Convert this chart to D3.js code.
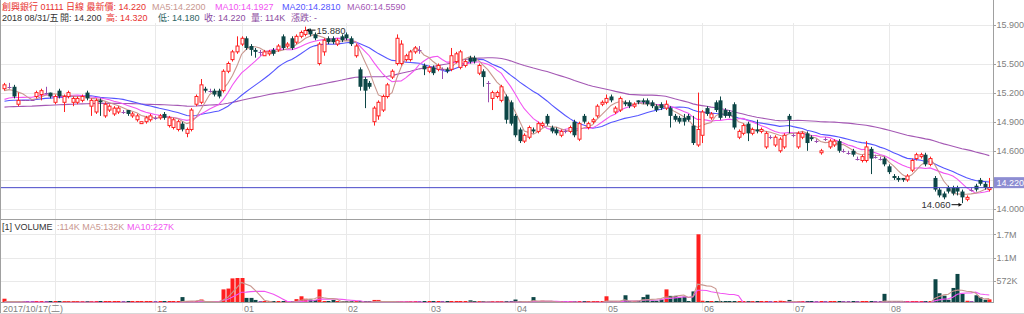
<!DOCTYPE html>
<html><head><meta charset="utf-8">
<script src="https://cdn.jsdelivr.net/npm/d3@7/dist/d3.min.js"></script>
<style>
body{margin:0;background:#fff;}
svg{display:block;font-family:"Liberation Sans",Arial,"Noto Sans CJK TC",sans-serif;}
</style></head>
<body><svg id="c" width="1024" height="314"></svg>
<script>
// ---------------- data ----------------
const opens = [
15.24,15.26,15.26,15.08,15.12,15.12,15.12,15.16,15.18,15.20,
15.20,15.10,15.22,15.10,15.16,15.10,15.10,15.12,15.20,15.06,
15.00,15.12,14.96,15.02,14.98,15.00,15.00,15.02,14.96,14.92,
14.88,14.90,14.92,14.94,14.94,14.98,14.86,14.84,14.82,14.88,
14.78,14.82,15.08,15.10,15.24,15.22,15.22,15.22,15.22,15.42,
15.54,15.62,15.70,15.76,15.68,15.64,15.62,15.58,15.60,15.64,
15.64,15.78,15.68,15.76,15.72,15.78,15.80,15.84,15.80,15.50,
15.62,15.76,15.76,15.70,15.78,15.80,15.76,15.58,15.44,15.34,
15.30,14.90,14.96,15.02,15.16,15.36,15.50,15.50,15.54,15.54,
15.62,15.64,15.48,15.42,15.46,15.44,15.44,15.44,15.44,15.52,
15.46,15.48,15.56,15.56,15.40,15.42,15.30,15.14,15.16,15.12,
15.16,15.10,14.96,14.82,14.70,14.74,14.82,14.80,14.86,14.96,
14.84,14.82,14.76,14.80,14.80,14.90,14.72,14.96,14.84,14.90,
14.96,15.08,15.10,15.16,15.00,15.02,15.10,15.10,15.06,15.12,
15.12,15.12,15.10,15.06,15.08,15.04,15.04,14.96,14.94,14.94,
14.96,14.86,14.66,14.76,15.04,14.94,15.10,15.12,15.02,15.00,
15.08,14.74,14.78,14.88,14.78,14.82,14.80,14.64,14.74,14.66,
14.60,14.64,14.96,14.76,14.64,14.74,14.78,14.74,14.70,14.58,
14.72,14.64,14.66,14.70,14.60,14.58,14.60,14.52,14.50,14.50,
14.62,14.54,14.52,14.52,14.44,14.34,14.32,14.32,14.30,14.40,
14.52,14.54,14.56,14.46,14.32,14.20,14.16,14.22,14.22,14.22,
14.18,14.10,14.20,14.24,14.30,14.26,14.20];
const highs = [
15.30,15.30,15.28,15.20,15.12,15.12,15.12,15.22,15.24,15.26,
15.20,15.18,15.24,15.18,15.22,15.16,15.16,15.18,15.22,15.14,
15.14,15.14,15.10,15.08,15.06,15.06,15.02,15.02,15.00,14.98,
14.90,14.96,14.98,14.96,14.98,15.00,14.96,14.94,14.92,14.90,
14.84,15.04,15.18,15.34,15.26,15.24,15.24,15.24,15.44,15.52,
15.64,15.78,15.78,15.78,15.70,15.66,15.64,15.64,15.64,15.66,
15.70,15.80,15.72,15.78,15.80,15.84,15.88,15.86,15.82,15.72,
15.76,15.78,15.78,15.76,15.80,15.82,15.78,15.70,15.46,15.36,
15.32,15.06,15.12,15.18,15.30,15.44,15.80,15.74,15.60,15.64,
15.68,15.68,15.50,15.48,15.48,15.50,15.46,15.46,15.66,15.62,
15.64,15.54,15.58,15.58,15.50,15.44,15.32,15.22,15.22,15.28,
15.18,15.12,14.98,14.84,14.78,14.86,14.84,14.90,14.90,14.98,
14.86,14.84,14.82,14.82,14.86,14.92,14.90,14.98,14.90,14.94,
15.08,15.12,15.18,15.18,15.06,15.16,15.12,15.12,15.10,15.12,
15.14,15.14,15.12,15.08,15.10,15.12,15.06,14.98,14.96,14.98,
14.98,14.96,15.20,15.02,15.06,15.00,15.12,15.16,15.04,15.02,
15.10,14.82,14.88,14.90,14.84,14.92,14.84,14.80,14.76,14.76,
14.74,14.78,14.98,14.78,14.80,14.80,14.80,14.76,14.72,14.62,
14.74,14.72,14.72,14.72,14.62,14.60,14.62,14.54,14.56,14.70,
14.64,14.56,14.54,14.54,14.46,14.36,14.34,14.32,14.36,14.52,
14.58,14.58,14.58,14.54,14.34,14.22,14.18,14.24,14.24,14.24,
14.20,14.14,14.22,14.26,14.32,14.28,14.32];
const lows = [
15.22,15.24,15.14,15.06,15.12,15.12,15.12,15.14,15.12,15.18,
15.14,15.08,15.14,15.00,15.14,15.06,15.08,15.10,15.12,14.96,
14.98,14.96,14.94,15.00,14.96,14.98,14.98,14.96,14.94,14.90,
14.88,14.88,14.90,14.92,14.92,14.92,14.84,14.82,14.80,14.80,
14.74,14.80,15.06,15.08,15.20,15.20,15.16,15.14,15.20,15.40,
15.52,15.60,15.68,15.64,15.58,15.56,15.58,15.58,15.58,15.58,
15.62,15.64,15.66,15.64,15.70,15.76,15.78,15.78,15.74,15.48,
15.58,15.70,15.70,15.68,15.72,15.74,15.68,15.56,15.22,15.04,
15.24,14.86,14.92,15.00,15.14,15.34,15.48,15.48,15.52,15.52,
15.60,15.60,15.38,15.40,15.38,15.42,15.34,15.40,15.42,15.50,
15.44,15.46,15.50,15.50,15.38,15.26,15.10,15.02,15.14,15.10,
14.88,14.86,14.74,14.68,14.68,14.72,14.78,14.78,14.84,14.86,
14.78,14.76,14.74,14.78,14.78,14.74,14.70,14.88,14.82,14.88,
14.94,15.06,15.08,15.10,14.98,15.00,15.06,15.04,15.04,15.08,
15.08,15.06,15.04,15.00,15.02,15.02,14.84,14.90,14.88,14.86,
14.90,14.66,14.64,14.68,14.96,14.92,15.00,14.92,14.94,14.94,
14.82,14.72,14.76,14.70,14.76,14.78,14.78,14.62,14.72,14.64,
14.58,14.62,14.78,14.74,14.62,14.72,14.60,14.70,14.68,14.56,
14.70,14.62,14.64,14.58,14.58,14.56,14.54,14.50,14.48,14.48,
14.36,14.52,14.50,14.44,14.36,14.30,14.28,14.28,14.28,14.38,
14.50,14.52,14.44,14.44,14.18,14.12,14.10,14.16,14.14,14.14,
14.06,14.08,14.18,14.18,14.24,14.20,14.18];
const closes = [
15.28,15.26,15.16,15.12,15.12,15.12,15.12,15.20,15.22,15.20,
15.16,15.16,15.16,15.16,15.20,15.14,15.14,15.16,15.14,15.12,
15.12,15.10,15.08,15.06,15.04,15.04,15.00,14.98,14.98,14.96,
14.90,14.94,14.96,14.94,14.96,14.94,14.94,14.92,14.90,14.82,
14.82,15.02,15.16,15.28,15.22,15.22,15.18,15.16,15.42,15.50,
15.62,15.68,15.76,15.66,15.64,15.62,15.62,15.62,15.62,15.60,
15.68,15.66,15.70,15.66,15.78,15.82,15.84,15.80,15.76,15.70,
15.74,15.72,15.72,15.74,15.74,15.76,15.70,15.68,15.26,15.22,
15.26,15.04,15.10,15.16,15.28,15.42,15.76,15.70,15.58,15.62,
15.66,15.64,15.44,15.46,15.40,15.48,15.44,15.42,15.58,15.60,
15.62,15.52,15.52,15.52,15.48,15.36,15.30,15.20,15.20,15.26,
14.92,14.88,14.76,14.70,14.76,14.84,14.80,14.88,14.88,14.88,
14.80,14.78,14.80,14.80,14.84,14.76,14.88,14.90,14.88,14.92,
15.06,15.10,15.14,15.12,15.04,15.14,15.08,15.06,15.08,15.10,
15.10,15.08,15.06,15.02,15.04,15.08,14.96,14.92,14.90,14.90,
14.92,14.68,14.82,15.00,14.98,14.98,15.02,14.94,14.96,14.96,
14.84,14.80,14.86,14.78,14.82,14.80,14.82,14.78,14.74,14.74,
14.72,14.76,14.92,14.76,14.78,14.78,14.68,14.72,14.70,14.60,
14.72,14.70,14.70,14.60,14.60,14.58,14.56,14.52,14.54,14.64,
14.52,14.54,14.52,14.46,14.38,14.32,14.30,14.30,14.34,14.50,
14.56,14.56,14.46,14.52,14.20,14.14,14.12,14.18,14.16,14.18,
14.12,14.12,14.20,14.20,14.26,14.22,14.22];
// volume in thousands of shares
const volumes = [
130,40,45,30,20,15,15,25,30,20,
35,55,30,60,25,50,55,30,35,30,
25,30,20,25,20,15,20,70,20,25,
15,20,65,20,25,20,30,25,50,170,
55,60,55,110,40,30,25,30,360,380,
630,640,640,150,150,100,40,30,20,25,
35,60,40,60,120,190,130,110,100,360,
60,40,100,30,30,50,40,30,60,40,
30,100,100,40,40,35,70,40,30,25,
20,20,30,25,20,20,25,20,35,30,
40,30,90,30,30,60,60,40,30,30,
40,40,110,60,40,30,170,50,80,30,
30,60,30,20,30,70,40,30,30,40,
40,50,190,50,30,40,215,40,35,50,
170,230,80,80,110,360,200,200,160,180,
70,310,1716,80,60,20,25,30,20,25,
60,25,60,30,20,20,15,20,15,60,
80,30,100,30,20,20,15,15,20,15,
20,20,15,30,20,40,20,15,40,50,
20,20,25,250,30,20,20,15,15,20,
20,15,20,20,610,265,205,105,395,740,
250,80,60,215,165,105,114];
// index of the first session of each month and its label
const monthStarts = [11,33,52,75,93,112,132,153,173,194];
const monthLabels = ["","12","01","02","03","04","05","06","07","08"];
const firstDateLabel = "2017/10/17(二)";
const priceTicks = [14.0,14.3,14.6,14.9,15.2,15.5,15.9];
const volTicks = [572,1144,1716];
const volTickLabels = ["572K","1.1M","1.7M"];
// moving-average values at the first visible session
const maSeedPrice = {5:15.22,10:15.13,20:15.11,60:15.05};
const maSeedVol = {5:60,10:50};
const header1 = ["創興銀行 01111 日線 最新價: 14.220","MA5:14.2200","MA10:14.1927","MA20:14.2810","MA60:14.5590"];
const header2 = ["2018 08/31/五","開: 14.200","高: 14.320","低: 14.180","收: 14.220","量: 114K","漲跌: -"];
const volHeader = ["[1] VOLUME",":114K MA5:132K","MA10:227K"];

// ---------------- layout ----------------
const RIGHT = 993;
const C = {up:"#ff1f1f", down:"#0d4646", flat:"#9a4fb0",
  ma5:"#c9978f", ma10:"#f254f2", ma20:"#5555ff", ma60:"#a458b4",
  grid:"#e9e9e9", axis:"#a0a0a0", label:"#808080"};
const svg = d3.select("#c");
const n = closes.length;
const x = d3.scalePoint().domain(d3.range(n)).range([4.5, 989.3]);
const y = d3.scaleLinear().domain([14.0,15.9]).range([209,24.7]);
const yv = d3.scaleLinear().domain([0,1716]).range([304,234.3]);
const px = i => Math.round(x(i)) + 0.5;

function movingAvg(vals, k, seed){
  const prior = (k*seed - vals[0])/(k-1);
  return vals.map((v,i)=>{
    let s = 0;
    if (i >= k-1){ for(let j=i-k+1;j<=i;j++) s+=vals[j]; }
    else { s = prior*(k-1-i); for(let j=0;j<=i;j++) s+=vals[j]; }
    return s/k;
  });
}
const dir = i => closes[i] > opens[i] ? "up" : (closes[i] < opens[i] ? "down" : "flat");

// defs / clips
const defs = svg.append("defs");
defs.append("clipPath").attr("id","cp").append("rect").attr("x",1).attr("y",23).attr("width",RIGHT-1).attr("height",196);
defs.append("clipPath").attr("id","cv").append("rect").attr("x",1).attr("y",220).attr("width",RIGHT-1).attr("height",82.5);

// grid
const g = svg.append("g");
g.selectAll("line.hg").data(priceTicks).join("line")
  .attr("x1",1).attr("x2",RIGHT).attr("y1",d=>Math.round(y(d))+0.5).attr("y2",d=>Math.round(y(d))+0.5)
  .attr("stroke",C.grid);
g.selectAll("line.vg").data(volTicks).join("line")
  .attr("x1",1).attr("x2",RIGHT).attr("y1",d=>Math.round(yv(d))+0.5).attr("y2",d=>Math.round(yv(d))+0.5)
  .attr("stroke",C.grid);
g.selectAll("line.mg").data(monthStarts).join("line")
  .attr("x1",d=>px(d)).attr("x2",d=>px(d)).attr("y1",23).attr("y2",311)
  .attr("stroke",C.grid);

// frame
svg.append("line").attr("x1",0.5).attr("x2",0.5).attr("y1",0).attr("y2",314).attr("stroke",C.axis);
svg.append("line").attr("x1",RIGHT+0.5).attr("x2",RIGHT+0.5).attr("y1",0).attr("y2",303).attr("stroke",C.axis);
svg.append("line").attr("x1",0).attr("x2",RIGHT).attr("y1",219.5).attr("y2",219.5).attr("stroke",C.axis);
svg.append("line").attr("x1",0).attr("x2",RIGHT+1).attr("y1",302.5).attr("y2",302.5).attr("stroke",C.axis);
svg.append("line").attr("x1",0).attr("x2",1024).attr("y1",313.5).attr("y2",313.5).attr("stroke","#d8d8d8");

// price panel
const pp = svg.append("g").attr("clip-path","url(#cp)");
const line = (arr)=> d3.line().x((d,i)=>x(i)).y(d=>y(d)).curve(d3.curveLinear)(arr);
[[60,C.ma60],[20,C.ma20],[10,C.ma10],[5,C.ma5]].forEach(([k,col])=>{
  pp.append("path").attr("d",line(movingAvg(closes,k,maSeedPrice[k])))
    .attr("fill","none").attr("stroke",col).attr("stroke-width",1.1);
});
const cg = pp.selectAll("g.c").data(d3.range(n)).join("g");
cg.append("line").attr("x1",i=>px(i)).attr("x2",i=>px(i))
  .attr("y1",i=>y(highs[i])).attr("y2",i=>y(lows[i]))
  .attr("stroke",i=>C[dir(i)]);
cg.each(function(i){
  const s = d3.select(this), d = dir(i);
  const top = y(Math.max(opens[i],closes[i])), bot = y(Math.min(opens[i],closes[i]));
  if (d==="up"){
    s.append("rect").attr("x",px(i)-1.5).attr("y",top).attr("width",3).attr("height",Math.max(1,bot-top))
      .attr("fill","#fff").attr("stroke",C.up).attr("stroke-width",1);
  } else if (d==="down"){
    s.append("rect").attr("x",px(i)-2).attr("y",top).attr("width",4).attr("height",Math.max(1,bot-top))
      .attr("fill",C.down);
  } else {
    s.append("line").attr("x1",px(i)-2).attr("x2",px(i)+2).attr("y1",Math.round(top)+0.5).attr("y2",Math.round(top)+0.5)
      .attr("stroke",C.flat);
  }
});

// current price line and marker
const last = closes[n-1];
svg.append("line").attr("x1",1).attr("x2",RIGHT).attr("y1",y(last)).attr("y2",y(last))
  .attr("stroke","#4848c8").attr("stroke-width",1);

// high / low annotations (arrow points at the candle)
const iHi = d3.maxIndex(highs), iLo = d3.minIndex(lows);
const ann = svg.append("g").attr("font-size",9.5).attr("fill","#333");
{
  const hx = px(iHi), hy = y(highs[iHi]) + 3.5;
  ann.append("path").attr("d",`M${hx+10},${hy}H${hx+1}`).attr("fill","none").attr("stroke","#111");
  ann.append("path").attr("d",`M${hx+1},${hy}l3,-2v4z`).attr("fill","#111");
  ann.append("text").attr("x",hx+11).attr("y",hy+3.5).text(highs[iHi].toFixed(3));
  const lx = px(iLo), ly = y(lows[iLo]) + 1.5;
  ann.append("path").attr("d",`M${lx-11},${ly}H${lx-1}`).attr("fill","none").attr("stroke","#111");
  ann.append("path").attr("d",`M${lx-1},${ly}l-3,-2v4z`).attr("fill","#111");
  ann.append("text").attr("x",lx-12).attr("y",ly+3.5).attr("text-anchor","end").text(lows[iLo].toFixed(3));
}

// volume panel
const vp = svg.append("g").attr("clip-path","url(#cv)");
vp.selectAll("rect").data(d3.range(n)).join("rect")
  .attr("x",i=>px(i)-2).attr("width",4)
  .attr("y",i=>Math.min(yv(volumes[i]),301)).attr("height",i=>Math.max(1,302-yv(volumes[i])))
  .attr("fill",i=>C[dir(i)]);
const vline = (arr)=> d3.line().x((d,i)=>x(i)).y(d=>yv(d))(arr);
[[10,C.ma10],[5,C.ma5]].forEach(([k,col])=>{
  vp.append("path").attr("d",vline(movingAvg(volumes,k,maSeedVol[k])))
    .attr("fill","none").attr("stroke",col).attr("stroke-width",1.1);
});

// right axis labels
const ax = svg.append("g").attr("font-size",9).attr("fill",C.label);
const lastY = y(last);
priceTicks.forEach(t=>{
  const yy = Math.round(y(t))+0.5;
  svg.append("line").attr("x1",RIGHT).attr("x2",RIGHT+3).attr("y1",yy).attr("y2",yy).attr("stroke",C.axis);
  if (Math.abs(y(t)-lastY) > 10)
    ax.append("text").attr("x",RIGHT+3.5).attr("y",y(t)+3.3).text(t.toFixed(3));
});
volTicks.forEach((t,k)=>{
  const yy = Math.round(yv(t))+0.5;
  svg.append("line").attr("x1",RIGHT).attr("x2",RIGHT+3).attr("y1",yy).attr("y2",yy).attr("stroke",C.axis);
  ax.append("text").attr("x",RIGHT+3.5).attr("y",yv(t)+3.3).text(volTickLabels[k]);
});
svg.append("rect").attr("x",RIGHT+1).attr("y",lastY-10.5).attr("width",1024-RIGHT-1).attr("height",11).attr("fill","#8d8dd2");
svg.append("text").attr("x",RIGHT+3.5).attr("y",lastY-2).attr("font-size",9).attr("fill","#fff").text(last.toFixed(3));

// bottom date labels
const bl = svg.append("g").attr("font-size",9).attr("fill",C.label);
bl.append("text").attr("x",3).attr("y",312).text(firstDateLabel);
monthStarts.forEach((m,k)=>{ if(monthLabels[k]) bl.append("text").attr("x",px(m)+1.5).attr("y",312).text(monthLabels[k]); });

// headers
const FS = 9;
const h1 = svg.append("g").attr("font-size",FS);
const h1x = [2,152,215,282,347], h1c = ["#e8322f",C.ma5,C.ma10,C.ma20,C.ma60];
header1.forEach((t,k)=> h1.append("text").attr("x",h1x[k]).attr("y",9.5).attr("fill",h1c[k]).text(t));
const h2 = svg.append("g").attr("font-size",FS);
const h2x = [2,60,106,158,204,251,291];
const h2c = ["#333","#333","#e8322f","#2d6464","#8b4aa0","#8b4aa0","#8b4aa0"];
header2.forEach((t,k)=> h2.append("text").attr("x",h2x[k]).attr("y",20.5).attr("fill",h2c[k]).text(t));
const vh = svg.append("g").attr("font-size",FS);
[[2,"#333"],[57,C.ma5],[127,C.ma10]].forEach(([xx,col],k)=> vh.append("text").attr("x",xx).attr("y",229.5).attr("fill",col).text(volHeader[k]));
</script></body></html>
